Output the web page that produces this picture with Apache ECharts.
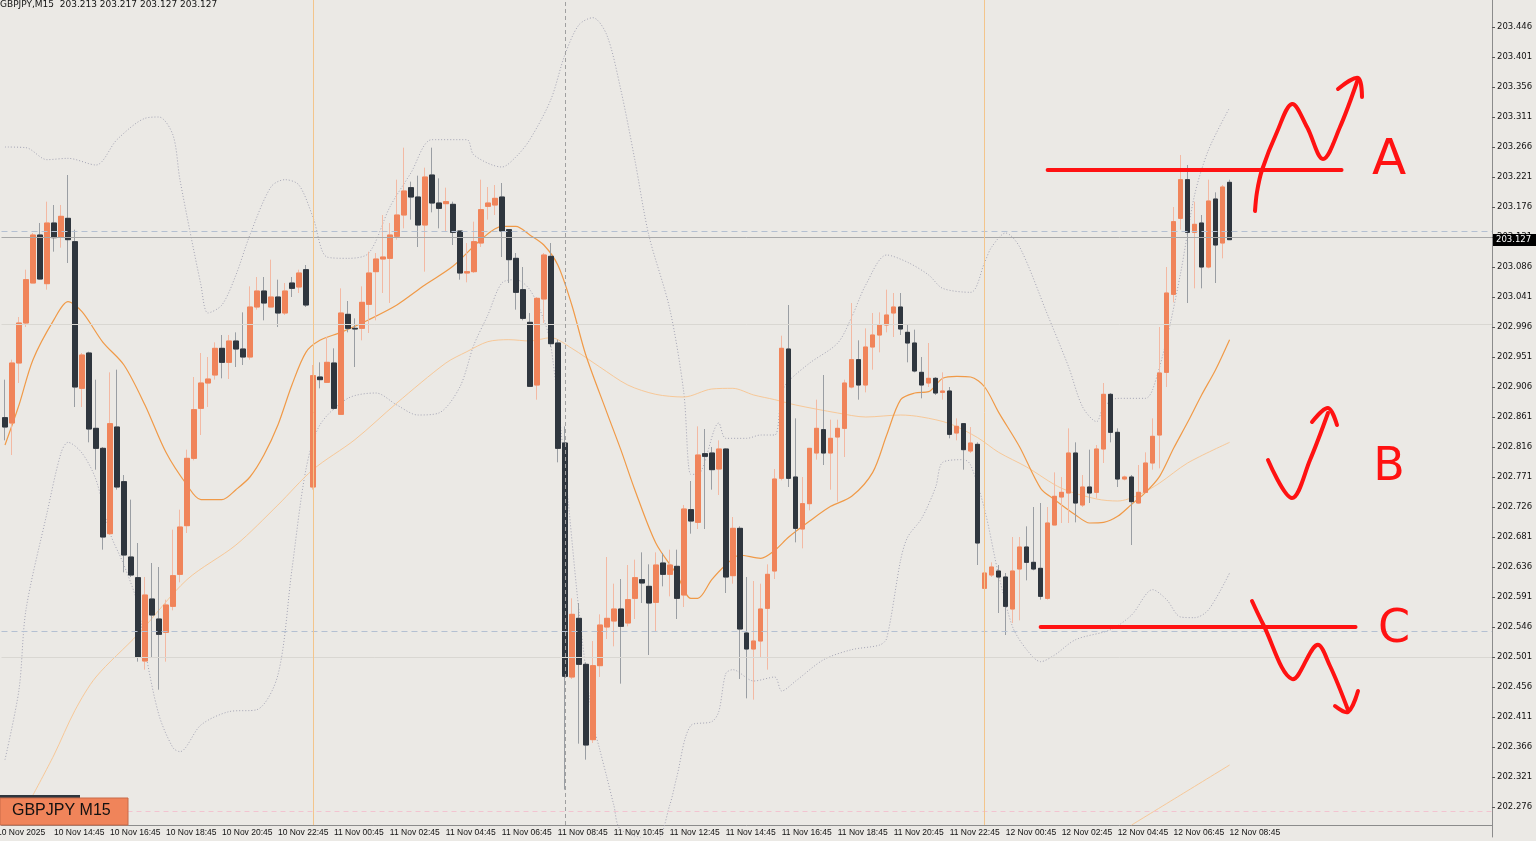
<!DOCTYPE html>
<html><head><meta charset="utf-8">
<script src="https://cdn.jsdelivr.net/npm/echarts@6/dist/echarts.min.js"></script>
<style>html,body{margin:0;padding:0;background:#ebe9e5;}#c{width:1536px;height:841px;}</style>
</head><body><div id="c"></div>
<script>
// [open, close, low, high]
const candles = [
[202.860,202.846,202.826,202.917],[202.852,202.942,202.804,202.947],[202.942,203.002,202.912,203.011],[203.002,203.067,202.996,203.082],
[203.062,203.134,203.062,203.137],[203.134,203.068,203.067,203.152],[203.061,203.152,203.052,203.184],[203.152,203.130,203.109,203.179],
[203.131,203.162,203.115,203.179],[203.159,203.127,203.092,203.224],[203.124,202.906,202.876,203.142],[202.904,202.954,202.876,202.957],
[202.957,202.843,202.823,202.959],[202.844,202.814,202.782,202.917],[202.814,202.681,202.662,202.816],[202.686,202.851,202.684,202.928],
[202.846,202.756,202.752,202.932],[202.764,202.654,202.628,202.774],[202.651,202.624,202.621,202.737],[202.620,202.501,202.494,202.672],
[202.495,202.594,202.482,202.621],[202.588,202.564,202.501,202.642],[202.558,202.535,202.452,202.636],[202.538,202.579,202.494,202.587],
[202.577,202.623,202.571,202.692],[202.625,202.696,202.613,202.722],[202.698,202.799,202.687,202.812],[202.799,202.872,202.796,202.921],
[202.874,202.912,202.834,202.957],[202.912,202.918,202.876,202.951],[202.924,202.964,202.917,202.973],[202.964,202.943,202.919,202.984],
[202.943,202.975,202.918,202.984],[202.975,202.963,202.936,202.988],[202.963,202.951,202.939,203.018],[202.951,203.026,202.947,203.057],
[203.026,203.050,203.022,203.071],[203.050,203.032,203.006,203.071],[203.026,203.041,203.026,203.097],[203.041,203.017,202.996,203.067],
[203.017,203.050,203.014,203.062],[203.062,203.054,203.041,203.071],[203.056,203.077,203.047,203.082],[203.082,203.029,203.026,203.089],
[202.756,202.923,202.752,202.939],[202.921,202.917,202.904,202.943],[202.913,202.943,202.912,202.981],[202.942,202.874,202.872,202.964],
[202.865,203.017,202.864,203.054],[203.015,202.994,202.988,203.035],[202.994,202.993,202.936,203.009],[202.994,203.033,202.976,203.057],
[203.030,203.077,202.987,203.109],[203.079,203.098,203.006,203.107],[203.098,203.101,203.047,203.164],[203.099,203.134,203.032,203.152],
[203.132,203.164,203.127,203.217],[203.164,203.200,203.144,203.265],[203.205,203.191,203.157,203.214],[203.191,203.149,203.116,203.223],
[203.149,203.221,203.079,203.235],[203.224,203.182,203.168,203.265],[203.182,203.174,203.144,203.219],[203.181,203.184,203.139,203.205],
[203.180,203.138,203.119,203.184],[203.140,203.077,203.067,203.140],[203.077,203.079,203.063,203.122],[203.079,203.124,203.077,203.154],
[203.122,203.172,203.116,203.217],[203.177,203.182,203.157,203.206],[203.179,203.189,203.164,203.209],[203.191,203.140,203.101,203.212],
[203.142,203.097,203.062,203.142],[203.099,203.048,203.022,203.107],[203.052,203.009,203.006,203.086],[203.003,202.907,202.906,203.017],
[202.909,203.039,202.887,203.041],[203.038,203.104,203.002,203.107],[203.102,202.971,202.966,203.122],[202.972,202.814,202.793,202.977],
[202.822,202.472,202.302,202.847],[202.471,202.565,202.468,202.589],[202.559,202.490,202.371,202.582],[202.490,202.369,202.347,202.493],
[202.377,202.488,202.372,202.525],[202.488,202.549,202.471,202.565],[202.546,202.559,202.528,202.651],[202.555,202.573,202.517,202.611],
[202.573,202.547,202.461,202.618],[202.552,202.587,202.547,202.639],[202.589,202.620,202.558,202.647],[202.617,202.612,202.582,202.658],
[202.607,202.582,202.504,202.640],[202.583,202.639,202.540,202.658],[202.642,202.625,202.607,202.657],[202.625,202.639,202.592,202.662],
[202.637,202.589,202.558,202.662],[202.594,202.723,202.576,202.729],[202.722,202.705,202.686,202.765],[202.703,202.804,202.693,202.847],
[202.806,202.802,202.693,202.843],[202.807,202.782,202.752,202.816],[202.783,202.813,202.744,202.826],[202.813,202.621,202.597,202.814],
[202.623,202.694,202.611,202.711],[202.694,202.543,202.468,202.697],[202.537,202.513,202.439,202.621],[202.513,202.525,202.437,202.615],
[202.525,202.573,202.501,202.611],[202.574,202.625,202.482,202.640],[202.630,202.768,202.618,202.783],[202.769,202.964,202.766,202.983],
[202.963,202.769,202.756,203.029],[202.771,202.694,202.673,202.859],[202.693,202.731,202.664,202.771],[202.731,202.814,202.721,202.814],
[202.807,202.844,202.797,202.887],[202.842,202.807,202.789,202.924],[202.807,202.829,202.752,202.857],[202.831,202.844,202.734,202.857],
[202.844,202.912,202.801,202.917],[202.906,202.947,202.904,203.032],[202.947,202.909,202.887,202.976],[202.909,202.966,202.898,202.994],
[202.966,202.984,202.932,203.017],[202.984,202.999,202.958,203.018],[202.999,203.014,202.988,203.052],[203.017,203.026,202.981,203.047],
[203.026,202.993,202.984,203.047],[202.988,202.972,202.943,202.999],[202.972,202.930,202.928,202.992],[202.928,202.909,202.889,202.951],
[202.912,202.919,202.906,202.972],[202.919,202.897,202.894,202.921],[202.898,202.900,202.887,202.928],[202.900,202.835,202.829,202.906],
[202.837,202.847,202.826,202.859],[202.851,202.812,202.782,202.852],[202.810,202.822,202.807,202.846],[202.820,202.672,202.639,202.823],
[202.604,202.627,202.601,202.642],[202.624,202.636,202.621,202.643],[202.630,202.621,202.567,202.639],[202.621,202.577,202.534,202.627],
[202.573,202.630,202.552,202.681],[202.633,202.666,202.556,202.681],[202.666,202.643,202.616,202.697],[202.643,202.633,202.631,202.726],
[202.634,202.592,202.587,202.732],[202.589,202.702,202.587,202.726],[202.699,202.742,202.699,202.778],[202.741,202.748,202.702,202.771],
[202.747,202.807,202.702,202.844],[202.807,202.732,202.703,202.823],[202.729,202.756,202.726,202.774],[202.756,202.747,202.732,202.812],
[202.748,202.813,202.739,202.819],[202.813,202.895,202.792,202.912],[202.895,202.838,202.823,202.897],[202.838,202.768,202.756,202.844],
[202.768,202.771,202.766,202.773],[202.771,202.734,202.669,202.774],[202.732,202.748,202.731,202.789],[202.748,202.792,202.747,202.808],
[202.792,202.832,202.782,202.859],[202.834,202.927,202.784,202.996],[202.928,203.047,202.906,203.086],[203.045,203.154,203.033,203.176],
[203.159,203.217,203.142,203.254],[203.217,203.138,203.032,203.239],[203.138,203.150,203.054,203.184],[203.152,203.086,203.054,203.164],
[203.086,203.185,203.084,203.217],[203.188,203.119,203.062,203.198],[203.122,203.206,203.099,203.209],[203.213,203.127,203.127,203.217]
];
const maFast = [[0,202.819],[2,202.879],[4,202.947],[7,203.007],[9,203.034],[11,203.019],[14,202.973],[17,202.939],[20,202.879],[23,202.808],[26,202.759],[28,202.737],[31,202.737],[33,202.752],[35,202.771],[37,202.804],[39,202.849],[41,202.909],[43,202.958],[45,202.976],[48,202.988],[52,203.007],[56,203.029],[60,203.059],[64,203.087],[68,203.127],[71,203.147],[73,203.147],[75,203.134],[77,203.119],[79,203.089],[81,203.029],[83,202.954],[86,202.868],[88,202.812],[90,202.752],[93,202.672],[96,202.625],[98,202.589],[99,202.589],[101,202.617],[103,202.639],[105,202.654],[108,202.649],[110,202.661],[112,202.681],[115,202.705],[118,202.727],[121,202.742],[124,202.778],[126,202.834],[128,202.887],[130,202.897],[132,202.899],[134,202.919],[136,202.922],[138,202.921],[140,202.906],[142,202.868],[145,202.816],[148,202.754],[150,202.737],[153,202.714],[155,202.702],[157,202.703],[159,202.712],[161,202.730],[163,202.748],[165,202.772],[167,202.814],[169,202.853],[171,202.894],[173,202.932],[175,202.977]];
const maSlow = [[4,202.294],[7,202.354],[10,202.421],[13,202.471],[19,202.535],[26,202.617],[33,202.669],[39,202.729],[44,202.782],[50,202.827],[56,202.882],[63,202.942],[66,202.959],[69,202.974],[72,202.977],[75,202.975],[78,202.980],[81,202.964],[85,202.936],[89,202.909],[93,202.895],[97,202.891],[101,202.903],[104,202.904],[107,202.894],[110,202.887],[113,202.879],[119,202.867],[123,202.861],[128,202.864],[131,202.861],[135,202.851],[139,202.830],[142,202.808],[146,202.786],[151,202.754],[156,202.738],[159,202.735],[162,202.744],[165,202.762],[169,202.792],[175,202.823]];
const maLong = [[161,202.249],[168,202.294],[175,202.339]];
const bandUpper = [[0,203.266],[3,203.265],[6,203.247],[9,203.249],[13,203.239],[16,203.277],[20,203.309],[22,203.311],[24,203.284],[25,203.217],[28,203.059],[29,203.017],[31,203.029],[33,203.074],[35,203.134],[38,203.206],[40,203.217],[42,203.209],[44,203.161],[46,203.101],[49,203.099],[52,203.107],[55,203.176],[58,203.227],[61,203.277],[66,203.277],[67,203.254],[71,203.236],[73,203.251],[75,203.277],[78,203.337],[80,203.404],[82,203.449],[84,203.460],[86,203.434],[88,203.352],[90,203.247],[92,203.134],[95,203.023],[97,202.898],[98,202.775],[99,202.775],[102,202.852],[103,202.829],[106,202.829],[108,202.834],[110,202.834],[111,202.898],[112,202.915],[115,202.942],[119,202.972],[121,203.011],[123,203.059],[126,203.104],[129,203.093],[132,203.074],[134,203.054],[138,203.048],[140,203.093],[141,203.116],[143,203.137],[145,203.116],[149,203.014],[152,202.936],[154,202.876],[156,202.854],[157,202.876],[159,202.889],[163,202.889],[164,202.902],[166,202.977],[168,203.077],[170,203.194],[172,203.262],[175,203.325]];
const bandLower = [[0,202.347],[2,202.452],[3,202.572],[6,202.717],[8,202.807],[9,202.823],[11,202.807],[13,202.767],[15,202.687],[17,202.639],[19,202.579],[20,202.512],[22,202.414],[24,202.365],[25,202.359],[28,202.399],[32,202.419],[36,202.422],[39,202.474],[41,202.632],[43,202.782],[45,202.849],[49,202.889],[53,202.897],[56,202.879],[59,202.864],[62,202.867],[65,202.906],[67,202.969],[69,203.014],[71,203.062],[73,203.067],[75,203.052],[77,203.007],[78,202.969],[80,202.786],[82,202.572],[84,202.404],[85,202.362],[86,202.321],[87,202.279],[88,202.242],[93,202.227],[95,202.279],[96,202.321],[98,202.398],[101,202.404],[102,202.419],[103,202.476],[104,202.482],[107,202.465],[110,202.471],[111,202.450],[113,202.465],[117,202.497],[121,202.512],[125,202.519],[126,202.529],[128,202.647],[129,202.681],[131,202.709],[133,202.756],[134,202.793],[137,202.797],[138,202.789],[140,202.722],[142,202.624],[144,202.546],[146,202.512],[148,202.494],[150,202.504],[153,202.527],[158,202.542],[161,202.564],[164,202.602],[166,202.587],[168,202.561],[170,202.560],[172,202.572],[175,202.627]];
const yTicks = {min:202.231, max:203.4865, step:0.045};
const plotBottom = 202.249;
const lastPrice = 203.127;
const levelA = 203.232, levelC = 202.546;
const months = ['Nov'];
const nSlots = 213;

const cats = [];
for (let i=0;i<nSlots;i++){
  const m = 13*60 + 15*i; const d = 10 + Math.floor(m/1440); const hm = m%1440;
  const hh = String(Math.floor(hm/60)).padStart(2,'0'), mm = String(hm%60).padStart(2,'0');
  cats.push(i===0 ? '10 Nov 2025' : d+' '+months[0]+' '+hh+':'+mm);
}
const showLbl = (i)=> i===0 || (i>=7 && i<=175 && (i-7)%8===0);
const bodies = candles.map(c=>[c[0],c[1],Math.min(c[0],c[1]),Math.max(c[0],c[1])]);
const vline = (i,color,type)=>[{coord:[i,plotBottom]},{coord:[i,yTicks.max],lineStyle:{color:color,width:1,type:type}}];

const chart = echarts.init(document.getElementById('c'));
const RED='#ff1212';
const stroke = (pts)=>({type:'polyline',shape:{points:pts,smooth:0.35},style:{stroke:RED,lineWidth:4,fill:null,lineCap:'round',lineJoin:'round'},z:100});
chart.setOption({
  animation:false,
  backgroundColor:'#ebe9e5',
  grid:{left:1.5,right:44,top:0,bottom:4},
  xAxis:{type:'category',data:cats,boundaryGap:true,offset:-12,
    axisLine:{lineStyle:{color:'#8c8c8c'}},
    axisTick:{interval:(i)=>showLbl(i),length:3,lineStyle:{color:'#555'}},
    axisLabel:{interval:(i)=>showLbl(i),hideOverlap:false,align:'left',fontSize:8.5,color:'#111',margin:3,fontFamily:'Liberation Sans',
      formatter:(v,i)=> i===0 ? '' : v},
    splitLine:{show:false}},
  yAxis:{type:'value',position:'right',min:yTicks.min,max:yTicks.max,interval:yTicks.step,scale:true,
    axisLine:{show:true,lineStyle:{color:'#8c8c8c'}},
    axisTick:{show:true,length:3,lineStyle:{color:'#555'}},
    axisLabel:{showMinLabel:false,showMaxLabel:false,fontSize:8.5,color:'#111',margin:5,fontFamily:'DejaVu Sans',formatter:v=>v.toFixed(3)},
    splitLine:{show:false}},
  series:[
    {type:'line',data:bandUpper,smooth:0.3,symbol:'none',lineStyle:{color:'#a4a4b4',width:1,type:[1,2]},z:1},
    {type:'line',data:bandLower,smooth:0.3,symbol:'none',lineStyle:{color:'#a4a4b4',width:1,type:[1,2]},z:1},
    {type:'line',data:maSlow,smooth:0.3,symbol:'none',lineStyle:{color:'#f7c898',width:1},z:2},
    {type:'line',data:maLong,smooth:0.3,symbol:'none',lineStyle:{color:'#f7c898',width:1},z:2},
    {type:'line',data:maFast,smooth:0.3,symbol:'none',lineStyle:{color:'#f09a48',width:1.2},z:2},
    {type:'candlestick',data:candles,barWidth:5,z:3,
      itemStyle:{color:'#f3b9a3',color0:'#9a9ea3',borderColor:'#f3b9a3',borderColor0:'#9a9ea3',borderWidth:1},
      markLine:{symbol:'none',silent:true,label:{show:false},data:[
        {yAxis:lastPrice,lineStyle:{color:'#a8a8a8',width:1,type:'solid'}},
        {yAxis:203.137,lineStyle:{color:'#b4c0d2',width:1,type:[6,4]}},
        {yAxis:202.543,lineStyle:{color:'#b4c0d2',width:1,type:[6,4]}},
        {yAxis:202.999,lineStyle:{color:'#d9d7d2',width:1,type:'solid'}},
        {yAxis:202.498,lineStyle:{color:'#d9d7d2',width:1,type:'solid'}},
        {yAxis:202.267,lineStyle:{color:'#f2c4d0',width:1,type:[5,4]}},
        vline(44,'#f3c58c','solid'),
        vline(140,'#f3c58c','solid'),
        vline(80,'#a0a0a0',[4,3]),
        [{coord:[149,levelA]},{coord:[191,levelA],lineStyle:{color:RED,width:4,type:'solid',cap:'round'}}],
        [{coord:[148,levelC]},{coord:[193,levelC],lineStyle:{color:RED,width:4,type:'solid',cap:'round'}}]
      ]}},
    {type:'candlestick',data:bodies,barWidth:5,z:4,
      itemStyle:{color:'#f0845a',color0:'#2f363e',borderColor:'#f0845a',borderColor0:'#2f363e',borderWidth:1}}
  ],
  graphic:[
    {type:'text',left:0,top:0,style:{text:'GBPJPY,M15  203.213 203.217 203.127 203.127',fontSize:9,fill:'#111',fontFamily:'DejaVu Sans'},z:50},
    {type:'text',x:-3,y:828,style:{text:'10 Nov 2025',fontSize:8.5,fill:'#111',fontFamily:'Liberation Sans'},z:50},
    {type:'rect',shape:{x:0,y:795,width:80,height:3},style:{fill:'#2f363e'},z:50},
    {type:'rect',shape:{x:0,y:798,width:128,height:27},style:{fill:'#f0845a',stroke:'#c86a48',lineWidth:1},z:50},
    {type:'text',x:12,y:803,style:{text:'GBPJPY M15',fontSize:16,fill:'#111',fontFamily:'Liberation Sans'},z:51},
    {type:'rect',shape:{x:1493,y:234,width:43,height:12},style:{fill:'#000'},z:50},
    {type:'text',x:1496,y:235.5,style:{text:'203.127',fontSize:8.5,fill:'#fff',fontFamily:'DejaVu Sans'},z:51},
    stroke([[1255,211],[1257,192],[1262,170],[1277,132],[1292,104],[1307,127],[1323,159],[1340,127],[1358,79]]),
    stroke([[1338,89],[1358,78],[1362,97]]),
    stroke([[1268,460],[1292,498],[1310,460],[1328,413]]),
    stroke([[1312,422],[1328,408],[1337,425]]),
    stroke([[1252,601],[1263,624],[1292,679],[1317,645],[1330,666],[1348,710]]),
    stroke([[1335,706],[1348,712],[1358,691]]),
    {type:'text',x:1389,y:161,style:{text:'A',fontSize:50,fill:RED,fontFamily:'DejaVu Sans',fontWeight:'normal',align:'center',verticalAlign:'middle'},z:100},
    {type:'text',x:1389,y:468,style:{text:'B',fontSize:46,fill:RED,fontFamily:'DejaVu Sans',align:'center',verticalAlign:'middle'},z:100},
    {type:'text',x:1394,y:630,style:{text:'C',fontSize:46,fill:RED,fontFamily:'DejaVu Sans',align:'center',verticalAlign:'middle'},z:100}
  ]
});
</script></body></html>
